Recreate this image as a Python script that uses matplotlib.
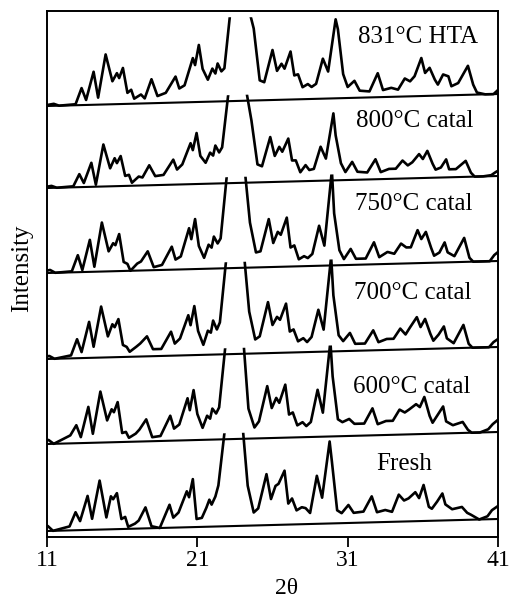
import numpy as np
import matplotlib.pyplot as plt
from matplotlib.patches import Polygon

plt.rcParams['font.family'] = ['Liberation Serif', 'DejaVu Serif']

# shared 2-theta vertices (deg)
two_theta = np.array([
    10.6, 11.45, 11.8, 12.9, 13.3, 13.6, 14.1, 14.4, 14.9, 15.35,
    15.65, 15.8, 16.05, 16.35, 16.6, 16.8, 17.25, 17.5, 17.95, 18.35,
    18.9, 19.55, 19.8, 20.15, 20.7, 20.85, 21.1, 21.35, 21.7, 22.0,
    22.2, 22.35, 22.6, 22.8, 23.2, 23.8, 24.45, 24.75, 25.15, 25.45,
    26.0, 26.3, 26.6, 26.8, 27.2, 27.45, 27.7, 28.0, 28.35, 28.6,
    28.9, 29.35, 29.7, 30.2, 30.35, 30.7, 31.0, 31.45, 31.8, 32.45,
    33.0, 33.35, 33.9, 34.35, 34.8, 35.15, 35.45, 35.9, 36.15, 36.45,
    36.8, 37.0, 37.35, 37.7, 37.9, 38.35, 39.0, 39.35, 39.6, 40.15,
    40.7, 41.0, 41.5])

# intensities above each trace's own baseline (arb. units, off-scale peak ~300)
fresh = [0, 5, 0, 4, 18, 9, 34, 11, 49, 12,
         33, 30, 36, 10, 12, 2, 5, 8, 21, 2,
         0, 23, 10, 15, 36, 30, 48, 8, 9, 19,
         27, 22, 30, 41, 93, 300, 93, 40, 13, 17,
         51, 26, 39, 41, 54, 21, 26, 14, 17, 16,
         11, 48, 26, 82, 62, 13, 10, 18, 10, 11,
         26, 10, 12, 10, 27, 21, 23, 29, 23, 36,
         14, 12, 19, 27, 16, 11, 13, 7, 5, 0,
         3, 9, 14]
cat600 = [0, 4, 0, 8, 18, 6, 36, 9, 51, 22,
          33, 30, 40, 9, 10, 4, 8, 12, 22, 4,
          5, 25, 12, 16, 42, 30, 50, 26, 12, 24,
          21, 31, 26, 32, 91, 300, 91, 30, 11, 17,
          52, 30, 40, 35, 53, 23, 25, 12, 15, 11,
          15, 47, 24, 95, 60, 17, 14, 17, 12, 12,
          27, 11, 14, 14, 25, 22, 25, 30, 27, 37,
          18, 11, 19, 27, 12, 8, 11, 3, 0, 0,
          3, 8, 14]
cat700 = [0, 3, 0, 3, 19, 6, 36, 11, 51, 21,
          33, 30, 38, 12, 10, 5, 10, 13, 20, 7,
          7, 24, 12, 17, 40, 30, 49, 24, 10, 24,
          22, 34, 25, 32, 92, 300, 92, 42, 14, 17,
          51, 28, 36, 33, 49, 21, 23, 11, 14, 10,
          15, 42, 22, 95, 56, 16, 10, 18, 7, 7,
          20, 8, 11, 11, 21, 15, 22, 32, 22, 30,
          15, 8, 14, 22, 10, 5, 23, 4, 0, 0,
          0, 5, 10]
cat750 = [0, 3, 0, 1, 17, 2, 32, 5, 49, 20,
          28, 26, 37, 9, 7, 0, 7, 9, 19, 3,
          5, 23, 10, 13, 41, 30, 50, 23, 11, 24,
          21, 32, 25, 30, 91, 300, 91, 45, 15, 16,
          48, 24, 35, 32, 49, 19, 21, 7, 10, 8,
          12, 40, 20, 95, 52, 15, 6, 16, 6, 6,
          22, 7, 12, 10, 20, 16, 16, 33, 24, 31,
          15, 7, 10, 20, 10, 6, 24, 4, 0, 0,
          0, 6, 12]
cat800 = [0, 2, 0, 1, 13, 4, 24, 2, 42, 18,
          28, 23, 30, 10, 11, 3, 9, 8, 20, 9,
          10, 25, 15, 20, 41, 34, 51, 28, 21, 31,
          28, 38, 31, 36, 88, 300, 88, 62, 18, 16,
          45, 26, 35, 30, 43, 21, 21, 9, 16, 11,
          12, 34, 22, 67, 45, 17, 8, 18, 8, 7,
          20, 7, 10, 10, 18, 13, 16, 24, 19, 27,
          14, 8, 10, 18, 8, 8, 16, 4, 0, 0,
          1, 4, 8]
hta831 = [0, 2, 0, 1, 17, 5, 33, 7, 50, 23,
          31, 26, 36, 11, 14, 5, 9, 5, 24, 7,
          10, 26, 14, 17, 44, 37, 57, 33, 22, 33,
          28, 38, 30, 33, 90, 300, 90, 72, 20, 18,
          50, 29, 36, 31, 48, 24, 25, 12, 15, 12,
          15, 40, 27, 79, 69, 24, 11, 17, 7, 6,
          24, 7, 9, 7, 18, 15, 20, 38, 23, 28,
          16, 11, 21, 19, 9, 12, 29, 10, 2, 0,
          0, 4, 8]

labels = ['Fresh', '600°C catal', '700°C catal', '750°C catal',
          '800°C catal', '831°C HTA']
traces = [fresh, cat600, cat700, cat750, cat800, hta831]
shifts = [-0.4, -0.35, -0.3, -0.25, -0.15, 0.0]

# layout of the stacked panels
offsets = [6, 93, 178, 264, 349, 431]
tilt = 0.4
label_pos = [(34.77, 73), (35.27, 150), (35.3, 244), (35.37, 333),
             (35.43, 416), (35.7, 500)]

fig = plt.figure(figsize=(5.12, 6.0), dpi=100)
ax = fig.add_axes([47 / 512, 63 / 600, 451 / 512, 526 / 600])
ax.set_xlim(11, 41)
ax.set_ylim(0, 526)

xs = np.array([11, 41])
for i, (h, lab) in enumerate(zip(traces, labels)):
    x = two_theta + shifts[i]
    base = offsets[i] + tilt * (x - 11)
    line, = ax.plot(x, base + np.array(h), color='black', lw=1.9)
    if i < len(traces) - 1:
        top_l = offsets[i + 1] + 6
        top_r = top_l + tilt * 31
    else:
        top_l = top_r = 520
    clip = Polygon([(10, -100), (42, -100), (42, top_r), (10, top_l - tilt)],
                   transform=ax.transData)
    line.set_clip_path(clip)
    # separator / baseline under each trace
    ax.plot(xs, offsets[i] + tilt * (xs - 11), color='black', lw=1.5)
    ax.text(label_pos[i][0], label_pos[i][1], lab, ha='center', va='center',
            fontsize=18)

ax.set_xticks([11, 21, 31, 41])
ax.set_yticks([])
ax.tick_params(axis='x', direction='out', length=7.5, width=1.3, pad=2,
               labelsize=17)
for s in ax.spines.values():
    s.set_linewidth(1.4)

fig.text(287 / 512, 1 - 588 / 600, '2θ', ha='center', va='center', fontsize=17)
fig.text(22 / 512, 1 - 268 / 600, 'Intensity', ha='center', va='center',
         rotation=90, fontsize=18)

fig.savefig('out.png', dpi=100)
